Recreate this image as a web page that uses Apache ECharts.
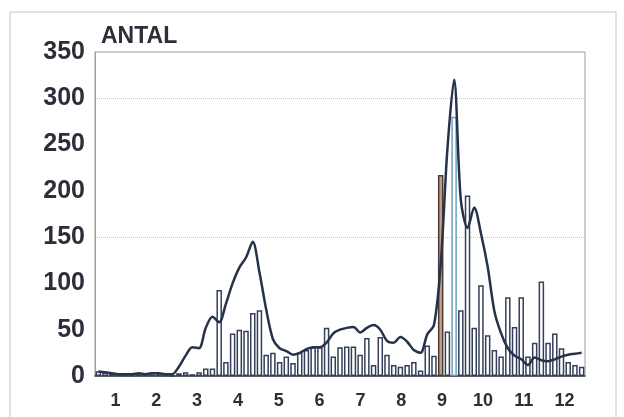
<!DOCTYPE html>
<html>
<head>
<meta charset="utf-8">
<script src="https://cdn.jsdelivr.net/npm/echarts@6/dist/echarts.min.js"></script>
<style>
html, body { margin: 0; background: #fff; }
#chart { width: 624px; height: 417px; }
</style>
</head>
<body>
<div id="chart"></div>
<script>
// månader på x-axeln
const months = ["1", "2", "3", "4", "5", "6", "7", "8", "9", "10", "11", "12"]
// antal per femdagarsperiod (staplar)
const barValues = [
  5, 4, 3, 2, 1, 1, 2, 3, 4, 2, 1, 0,
  3, 4, 2, 4, 8, 8, 93, 15, 46, 50, 49, 68,
  71, 23, 25, 15, 21, 14, 25, 28, 31, 31, 52, 21,
  31, 32, 32, 23, 41, 12, 42, 23, 12, 10, 12, 15,
  6, 33, 22, 217, 48, 280, 71, 195, 52, 98, 44, 28,
  21, 85, 53, 85, 21, 36, 102, 36, 46, 30, 15, 12, 10
]
// glidande medelvärde (linje)
const lineValues = [
  5, 4, 3, 2, 2, 2, 3, 2, 3, 3, 2, 2,
  10, 22, 31, 30, 52, 64, 58, 78, 100, 117, 128, 145,
  112, 72, 40, 30, 27, 23, 25, 29, 31, 31, 36, 46,
  50, 52, 53, 47, 52, 55, 50, 38, 36, 42, 37, 28,
  25, 45, 55, 120, 245, 320, 190, 160, 182, 154, 118, 70,
  46, 30, 22, 18, 12, 20, 17, 16, 18, 21, 23, 24, 25
]
const periods = barValues.map((v, i) => String(i + 1))

const font = "Liberation Sans"
const textColor = "#2e2e3a"
const hidden = "rgba(0,0,0,0)"

// några staplar har fyllning i originalet
const barStyle = {
  51: { color: "#c4a080", borderColor: "#4a3a38" },
  53: { color: "#ffffff", borderColor: "#6fa2c0" }
}

const chart = echarts.init(document.getElementById("chart"))
chart.setOption({
  animation: false,
  title: {
    text: "ANTAL",
    left: 96,
    top: 20,
    textStyle: { fontFamily: font, fontSize: 23, fontWeight: "bold", color: textColor }
  },
  graphic: [
    {
      type: "rect",
      shape: { x: 10, y: 12, width: 606, height: 420 },
      style: { fill: "none", stroke: "#c4c4c4", lineWidth: 1 },
      silent: true
    }
  ],
  grid: {
    left: 95,
    right: 39,
    top: 52,
    bottom: 41,
    show: true,
    borderColor: "#9a9a9a",
    borderWidth: 1
  },
  xAxis: [
    {
      type: "category",
      data: periods,
      show: false
    },
    {
      type: "category",
      data: months,
      position: "bottom",
      axisLine: { lineStyle: { color: "#3a3a44", width: 1.5 } },
      axisTick: { length: 19, lineStyle: { color: "#3a3a44", width: 2.5 } },
      axisLabel: { fontFamily: font, fontSize: 18, fontWeight: "bold", color: textColor, margin: 16 }
    }
  ],
  yAxis: {
    type: "value",
    min: 0,
    max: 350,
    interval: 50,
    axisLine: { show: true, lineStyle: { color: "#a0a0a0" } },
    axisTick: { show: false },
    axisLabel: { fontFamily: font, fontSize: 25, fontWeight: "bold", color: textColor, margin: 10 },
    splitLine: {
      show: true,
      lineStyle: {
        type: "dotted",
        color: [hidden, hidden, hidden, "#c8c8c8", hidden, hidden, "#c8c8c8", hidden]
      }
    }
  },
  series: [
    {
      type: "bar",
      xAxisIndex: 0,
      barWidth: 5.5,
      data: barValues.map((v, i) => barStyle[i] ? { value: v, itemStyle: barStyle[i] } : v),
      itemStyle: { color: "#ffffff", borderColor: "#34405a", borderWidth: 1.5 },
      z: 2
    },
    {
      type: "line",
      xAxisIndex: 0,
      data: lineValues,
      smooth: 0.3,
      symbol: "none",
      lineStyle: { color: "#26324a", width: 2.5 },
      z: 3
    }
  ]
})
</script>
</body>
</html>
